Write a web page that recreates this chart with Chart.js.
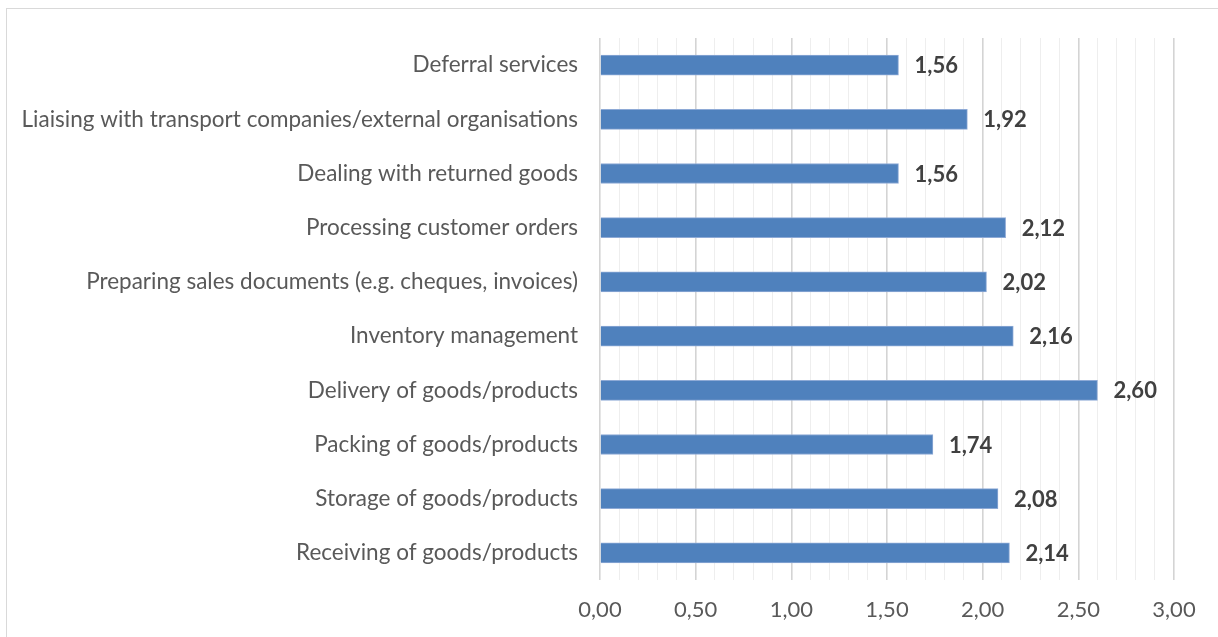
<!DOCTYPE html>
<html>
<head>
<meta charset="utf-8">
<script src="https://cdn.jsdelivr.net/npm/chart.js@4"></script>
<style>
  html, body { margin: 0; padding: 0; background: #fff; }
  #frame { position: absolute; left: 6px; top: 8px; width: 1300px; height: 700px; border: 1px solid #d9d9d9; }
  #wrap { position: absolute; left: 0; top: 0; width: 1218px; height: 637px; }
</style>
</head>
<body>
<div id="frame"></div>
<div id="wrap"><canvas id="myChart" width="1218" height="637"></canvas></div>
<script>
const categories = [
  "Deferral services",
  "Liaising with transport companies/external organisations",
  "Dealing with returned goods",
  "Processing customer orders",
  "Preparing sales documents (e.g. cheques, invoices)",
  "Inventory management",
  "Delivery of goods/products",
  "Packing of goods/products",
  "Storage of goods/products",
  "Receiving of goods/products",
];
const values = [1.56, 1.92, 1.56, 2.12, 2.02, 2.16, 2.60, 1.74, 2.08, 2.14];
const axisMin = 0;
const axisMax = 3;

const fmt = (v) => v.toFixed(2).replace(".", ",");
const isMajor = (v) => Math.abs(v * 2 - Math.round(v * 2)) < 1e-6;

// draws the bold value next to the end of each bar
const valueLabels = {
  id: "valueLabels",
  afterDatasetsDraw(chart) {
    const c = chart.ctx;
    const meta = chart.getDatasetMeta(0);
    c.save();
    c.font = "bold 22px Lato";
    c.fillStyle = "#404040";
    c.textAlign = "left";
    c.textBaseline = "middle";
    meta.data.forEach((bar, i) => {
      c.fillText(fmt(values[i]), bar.x + 16, bar.y + 1);
    });
    c.restore();
  },
};

const ctx = document.getElementById("myChart").getContext("2d");
const myChart = new Chart(ctx, {
  type: "bar",
  data: {
    labels: categories,
    datasets: [
      {
        data: values,
        backgroundColor: "#4f81bd",
        borderColor: "#8eaad6",
        borderWidth: 1,
        barThickness: 20,
      },
    ],
  },
  options: {
    indexAxis: "y",
    responsive: false,
    animation: false,
    layout: { padding: { top: 38, left: 0, right: 44, bottom: 0 } },
    plugins: { legend: { display: false }, tooltip: { enabled: false } },
    scales: {
      x: {
        min: axisMin,
        max: axisMax,
        border: { display: false },
        grid: {
          drawTicks: false,
          color: (c) => (isMajor(c.tick.value) ? "#d4d4d4" : "#eeeeee"),
          lineWidth: (c) => (isMajor(c.tick.value) ? 1.6 : 1),
        },
        ticks: {
          stepSize: 0.1,
          autoSkip: false,
          maxRotation: 0,
          padding: 17,
          color: "#595959",
          font: { family: "Lato", size: 22 },
          callback: (v) => (isMajor(v) ? fmt(v) : ""),
        },
        afterFit: (scale) => { scale.height = 57; },
      },
      y: {
        border: { display: false },
        grid: { display: false, drawTicks: false },
        ticks: {
          padding: 22,
          color: "#595959",
          font: { family: "Lato", size: 22.5 },
        },
        afterFit: (scale) => { scale.width = 600; },
      },
    },
  },
  plugins: [valueLabels],
});
</script>
</body>
</html>
